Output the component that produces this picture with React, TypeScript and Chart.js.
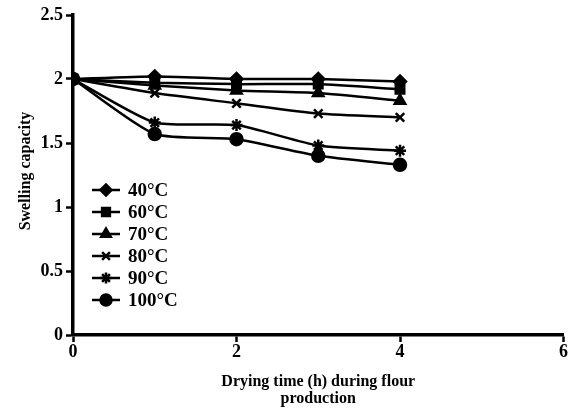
import React, { useEffect, useRef } from "react";
import { Chart, registerables } from "chart.js";
import { drawPoint } from "chart.js/helpers";

Chart.register(...registerables);

const times = [0, 1, 2, 3, 4];
const seriesLabels = ["40°C", "60°C", "70°C", "80°C", "90°C", "100°C"];
const s40 = [2.0, 2.02, 2.0, 2.0, 1.98];
const s60 = [2.0, 1.97, 1.96, 1.96, 1.92];
const s70 = [2.0, 1.95, 1.91, 1.89, 1.83];
const s80 = [2.0, 1.89, 1.81, 1.73, 1.7];
const s90 = [2.0, 1.66, 1.64, 1.48, 1.44];
const s100 = [2.0, 1.57, 1.53, 1.4, 1.33];
const seriesValues = [s40, s60, s70, s80, s90, s100];
const pointStyles = ["rectRot", "rect", "triangle", "crossRot", "star", "circle"];
const xTicks = [0, 2, 4, 6];
const yTicks = [0, 0.5, 1, 1.5, 2, 2.5];
const xTitle = ["Drying time (h) during flour", "production"];
const yTitle = "Swelling capacity";

const FONT = "'Liberation Serif', 'Times New Roman', serif";

function drawMarker(ctx: any, style: string, x: number, y: number, r: number) {
  ctx.save();
  ctx.fillStyle = "#000";
  ctx.strokeStyle = "#000";
  ctx.lineWidth = 2.5;
  drawPoint(ctx, { pointStyle: style, radius: r, rotation: 0, borderWidth: 2.5 } as any, x, y);
  ctx.restore();
}

const customPlugin = {
  id: "custom",
  afterDraw(chart: any) {
    const ctx = chart.ctx;
    const area = chart.chartArea;
    ctx.save();
    ctx.fillStyle = "#000";
    ctx.font = `bold 16px ${FONT}`;
    ctx.textAlign = "center";
    ctx.textBaseline = "middle";
    ctx.translate(26, 171);
    ctx.rotate(-Math.PI / 2);
    ctx.fillText(yTitle, 0, 0);
    ctx.restore();

    ctx.save();
    ctx.fillStyle = "#000";
    ctx.font = `bold 16px ${FONT}`;
    ctx.textAlign = "center";
    ctx.textBaseline = "middle";
    const cx = (area.left + area.right) / 2;
    ctx.fillText(xTitle[0], cx, 382);
    ctx.fillText(xTitle[1], cx, 399);
    ctx.restore();

    ctx.save();
    const x0 = 92, x1 = 120, y0 = 190, dy = 22;
    chart.data.datasets.forEach((ds: any, i: number) => {
      const y = y0 + i * dy;
      ctx.strokeStyle = "#000";
      ctx.lineWidth = 2.5;
      ctx.beginPath();
      ctx.moveTo(x0, y);
      ctx.lineTo(x1, y);
      ctx.stroke();
      drawMarker(ctx, ds.pointStyle, (x0 + x1) / 2, y, 5.5);
      ctx.font = `bold 19px ${FONT}`;
      ctx.textAlign = "left";
      ctx.textBaseline = "middle";
      ctx.fillStyle = "#000";
      ctx.fillText(ds.label, 128, y + 1);
    });
    ctx.restore();
  },
};

export default function App() {
  const ref = useRef<HTMLCanvasElement>(null);
  useEffect(() => {
    document.body.style.margin = "0";
    const datasets = seriesValues.map((vals, i) => ({
      label: seriesLabels[i],
      data: vals.map((v, j) => ({ x: times[j], y: v })),
      borderColor: "#000",
      backgroundColor: "#000",
      borderWidth: 2.5,
      pointStyle: pointStyles[i],
      pointRadius: 6,
      pointBorderWidth: 2.5,
      pointBorderColor: "#000",
      pointBackgroundColor: "#000",
      tension: 0.2,
      fill: false,
    }));
    const chart = new Chart(ref.current!, {
      type: "line",
      data: { datasets },
      options: {
        animation: false,
        responsive: false,
        maintainAspectRatio: false,
        layout: { padding: { left: 0, right: 8, top: 15, bottom: 0 } },
        plugins: { legend: { display: false }, tooltip: { enabled: false } },
        scales: {
          x: {
            type: "linear",
            min: 0,
            max: 6,
            afterBuildTicks: (s: any) => {
              s.ticks = xTicks.map((v) => ({ value: v }));
            },
            afterFit: (s: any) => {
              s.height = 77;
            },
            grid: {
              display: true,
              drawOnChartArea: false,
              drawTicks: true,
              tickLength: 7,
              tickWidth: 2.5,
              color: "#000",
            },
            border: { display: true, color: "#000", width: 3.5 },
            ticks: {
              color: "#000",
              font: { family: FONT, size: 18, weight: "bold" },
              padding: 0,
              maxRotation: 0,
            },
          },
          y: {
            type: "linear",
            min: 0,
            max: 2.5,
            afterBuildTicks: (s: any) => {
              s.ticks = yTicks.map((v) => ({ value: v }));
            },
            afterFit: (s: any) => {
              s.width = 73;
            },
            grid: {
              display: true,
              drawOnChartArea: false,
              drawTicks: true,
              tickLength: 7,
              tickWidth: 2.5,
              color: "#000",
            },
            border: { display: true, color: "#000", width: 3.5 },
            ticks: {
              color: "#000",
              font: { family: FONT, size: 18, weight: "bold" },
              padding: 3,
              callback: (v: any) => String(v),
            },
          },
        },
      },
      plugins: [customPlugin],
    });
    return () => chart.destroy();
  }, []);
  return (
    <div style={{ position: "absolute", left: 0, top: 0, width: 572, height: 412, background: "#fff" }}>
      <canvas ref={ref} width={572} height={412} style={{ width: 572, height: 412 }} />
    </div>
  );
}
